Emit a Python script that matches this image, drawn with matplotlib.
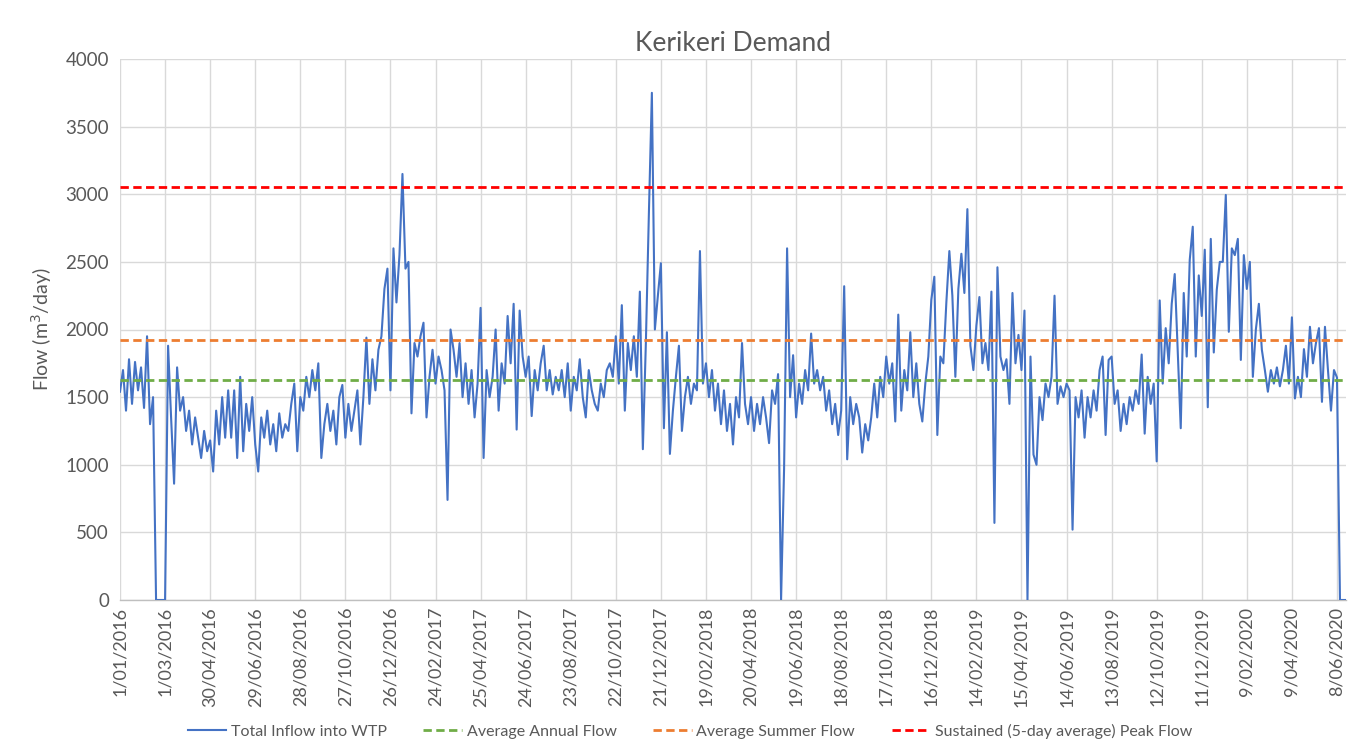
import numpy as np
import pandas as pd
import matplotlib
matplotlib.use("Agg")
import matplotlib.pyplot as plt

# ---------------- data ----------------
start_date = "2016-01-01"
step_days = 4
inflow = [
    1540, 1700, 1400, 1780, 1450, 1760, 1550, 1720, 1420, 1950, 1300, 1500, 0, 0, 0, 0,
    1880, 1350, 860, 1720, 1400, 1500, 1250, 1400, 1150, 1350, 1200, 1050, 1250, 1100, 1180, 950,
    1400, 1150, 1500, 1200, 1550,
    1200, 1550, 1050, 1650, 1100, 1450, 1250, 1500, 1150, 950, 1350, 1200, 1400, 1150, 1300, 1100,
    1380, 1200, 1300, 1250, 1450, 1600, 1100, 1500, 1400, 1650, 1500, 1700, 1550, 1750, 1050, 1300,
    1450, 1250, 1400, 1150, 1500,
    1590, 1200, 1450, 1250, 1400, 1550, 1150, 1500, 1940, 1450, 1780, 1550, 1850, 1950, 2300, 2450,
    1550, 2600, 2200, 2550, 3150, 2450, 2500, 1380, 1900, 1800, 1950, 2050, 1350, 1650, 1850, 1600,
    1800, 1700, 1550, 740, 2000,
    1850, 1650, 1900, 1500, 1750, 1450, 1700, 1350, 1600, 2160, 1050, 1700, 1500, 1650, 2000, 1400,
    1750, 1600, 2100, 1750, 2190, 1260, 2140, 1800, 1650, 1800, 1360, 1700, 1550, 1750, 1880, 1550,
    1700, 1520, 1650, 1550,
    1700, 1500, 1750, 1400, 1650, 1550, 1780, 1500, 1350, 1700, 1550, 1450, 1400, 1600, 1500, 1700,
    1750, 1650, 1950, 1600, 2180, 1400, 1900, 1700, 1950, 1650, 2280, 1115, 1900, 2850, 3750, 2000,
    2250, 2490, 1270, 1980, 1080,
    1400, 1650, 1880, 1250, 1500, 1650, 1450, 1600, 1550, 2580, 1600, 1750, 1500, 1700, 1400, 1600,
    1300, 1550, 1250, 1450, 1150, 1500, 1350, 1900, 1450, 1300, 1500, 1250, 1450, 1300, 1500, 1350,
    1160, 1550, 1450, 1670,
    0, 970, 2600, 1500, 1810, 1350, 1600, 1450, 1700, 1550, 1970, 1600, 1700, 1550, 1650, 1400,
    1550, 1300, 1450, 1220, 1400, 2320, 1040, 1500, 1300, 1450, 1350, 1090, 1300, 1180, 1350, 1600,
    1350, 1650, 1500, 1800,
    1600, 1750, 1320, 2110, 1400, 1700, 1550, 1980, 1500, 1750, 1450, 1320, 1600, 1800, 2220, 2390,
    1220, 1800, 1750, 2200, 2580, 2250, 1650, 2300, 2560, 2270, 2890, 1880, 1700, 2030, 2240, 1750,
    1900, 1700, 2280, 570, 2460, 1800,
    1700, 1780, 1450, 2270, 1750, 1960, 1700, 2140, 0, 1800, 1075, 1000, 1500, 1330, 1600, 1500,
    1650, 2250, 1450, 1580, 1500, 1600, 1550, 520, 1500, 1350, 1550, 1200, 1500, 1350, 1550, 1400,
    1700, 1800, 1220, 1775,
    1800, 1450, 1550, 1250, 1450, 1300, 1500, 1400, 1550, 1450, 1815, 1230, 1650, 1450, 1600, 1025,
    2215, 1600, 2010, 1750, 2190, 2410, 1850, 1270, 2270, 1800, 2515, 2760, 1800, 2400, 2100, 2590,
    1425, 2670, 1830, 2295, 2500,
    2500, 2995, 1983, 2600, 2550, 2670, 1775, 2550, 2300, 2500, 1650, 2000, 2190, 1850, 1700, 1540,
    1700, 1600, 1720, 1580, 1700, 1880, 1600, 2090, 1490, 1650, 1500, 1855, 1650, 2020, 1750, 1900,
    2010, 1465, 2020, 1700, 1400, 1700, 1645, 0, 0, 0,
]
avg_annual_flow = 1630
avg_summer_flow = 1920
peak_5day_flow = 3055

tick_start = "2016-01-01"
tick_end = "2020-06-08"
tick_interval_days = 60

series_names = ["Total Inflow into WTP", "Average Annual Flow",
                "Average Summer Flow", "Sustained (5-day average) Peak Flow"]
colors = ["#4472C4", "#70AD47", "#ED7D31", "#FF0000"]

# ---------------- build ----------------
dates = pd.date_range(start_date, periods=len(inflow), freq=f"{step_days}D")
ticks = pd.date_range(tick_start, tick_end, freq=f"{tick_interval_days}D")
tick_labels = [f"{d.day}/{d.month:02d}/{d.year}" for d in ticks]

plt.rcParams["font.family"] = ["Lato", "DejaVu Sans"]
text_col = "#595959"

fig = plt.figure(figsize=(13.53, 7.5), dpi=100)
ax = fig.add_axes([120 / 1353, 1 - 600 / 750, (1346 - 120) / 1353, (600 - 59) / 750])

ax.plot(dates, inflow, color=colors[0], lw=1.5, label=series_names[0], zorder=3)
ax.plot(dates, [avg_annual_flow] * len(dates), color=colors[1], lw=2.0,
        dashes=(3, 1.6), label=series_names[1], zorder=4)
ax.plot(dates, [avg_summer_flow] * len(dates), color=colors[2], lw=2.0,
        dashes=(3, 1.6), label=series_names[2], zorder=4)
ax.plot(dates, [peak_5day_flow] * len(dates), color=colors[3], lw=2.0,
        dashes=(3, 1.6), label=series_names[3], zorder=4)

ax.set_xlim(dates[0], dates[-1])
ax.set_ylim(0, 4000)
ax.set_yticks(np.arange(0, 4001, 500))
ax.set_xticks(ticks)
ax.set_xticklabels(tick_labels, rotation=90, fontsize=13, color=text_col)
ax.tick_params(axis="y", labelsize=13.5, colors=text_col, length=0, pad=8)
ax.tick_params(axis="x", length=0, pad=5, colors=text_col)

ax.grid(True, color="#d9d9d9", lw=1.0, zorder=0)
ax.set_axisbelow(True)
for side in ["top", "right", "left"]:
    ax.spines[side].set_visible(False)
ax.spines["bottom"].set_color("#bfbfbf")
ax.spines["bottom"].set_linewidth(1.0)

ax.set_ylabel("Flow (m$^3$/day)", fontsize=14, color=text_col, labelpad=8)
ax.set_title("Kerikeri Demand", fontsize=19, color=text_col, pad=6)

leg = fig.legend(loc="center", bbox_to_anchor=(690 / 1353, 1 - 731 / 750), ncol=4,
                 frameon=False, fontsize=11.5, handlelength=2.4, columnspacing=2.3,
                 handletextpad=0.3)
for t in leg.get_texts():
    t.set_color(text_col)

fig.savefig("out.png", dpi=100)
